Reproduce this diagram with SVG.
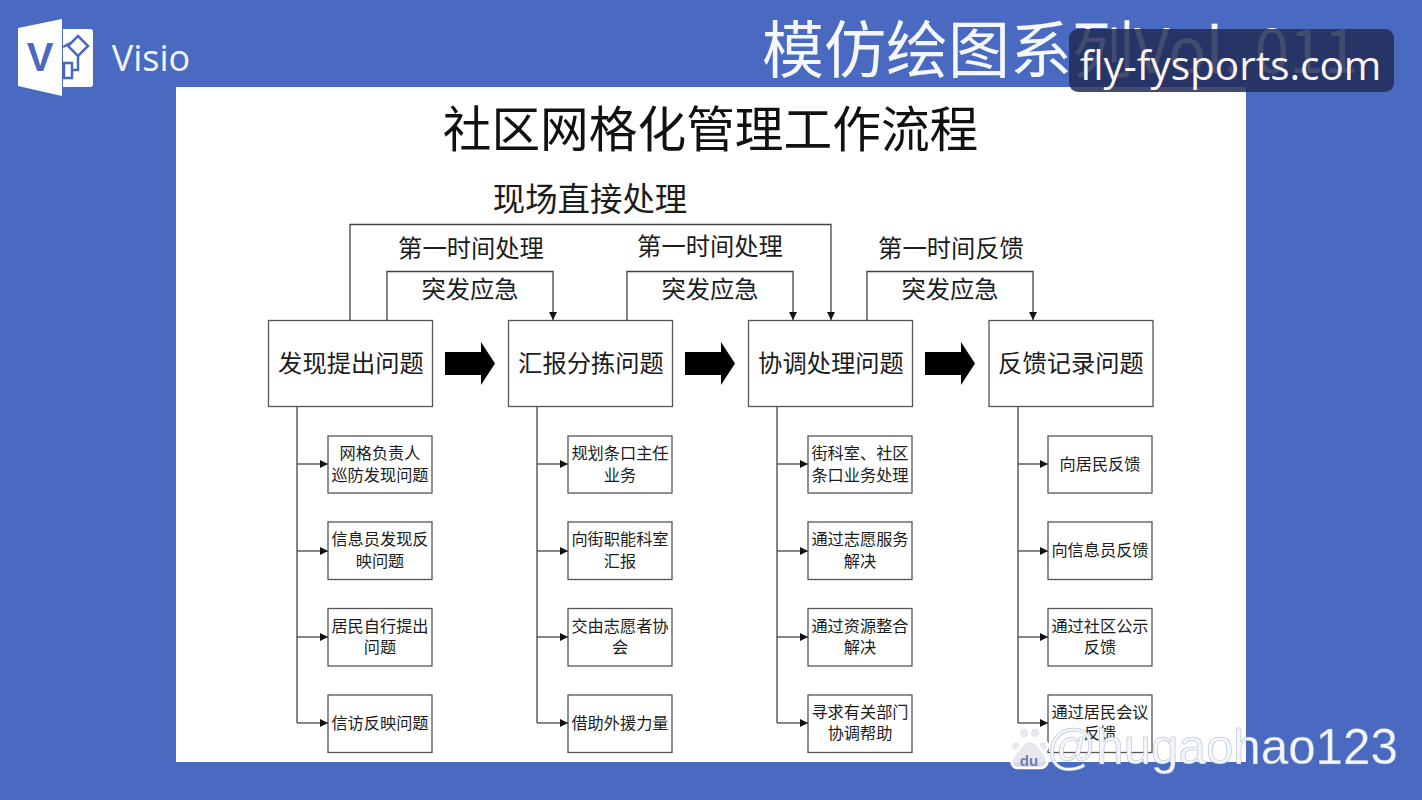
<svg xmlns="http://www.w3.org/2000/svg" width="1422" height="800" viewBox="0 0 1422 800">
<defs>
<marker id="ah" markerWidth="10" markerHeight="8" refX="8" refY="4" orient="auto" markerUnits="userSpaceOnUse"><path d="M0,0L8,4L0,8Z" fill="#111"/></marker>
<path id="blk" d="M0,10H36V0L50,21.500L36,43V33H0Z" fill="#000"/>
</defs>
<style>
text{font-family:"Noto Sans CJK SC","Liberation Sans",sans-serif;text-anchor:middle;fill:#1c1c1c}
.big rect,.sm rect{fill:#fff;stroke:#555;stroke-width:1.300}
.big text{font-size:24.300px}
.sm text{font-size:16.200px}
.lab{font-size:24.300px}
.con path{fill:none;stroke:#444;stroke-width:1.300}
</style>
<rect width="1422" height="800" fill="#4a69c1"/>
<rect x="176" y="87" width="1070" height="675" fill="#fff"/>
<g id="logo">
<path d="M18,28L62,19V96L18,86Z" fill="#fff"/>
<path d="M63,29H90Q93,29 93,32V84Q93,87 90,87H63Z" fill="#fff"/>
<text x="40" y="71" style="font-family:'Liberation Sans',sans-serif;font-size:40px;font-weight:700;fill:#4a69c1">V</text>
<path d="M78,36L88,46L78,56L68,46Z" fill="none" stroke="#4a69c1" stroke-width="2.500"/>
<path d="M63,47L70,43M78,56V70H72" fill="none" stroke="#4a69c1" stroke-width="2.500"/>
<rect x="64" y="63" width="8" height="15" fill="none" stroke="#4a69c1" stroke-width="2.500"/>
<text x="151" y="71" style="font-family:'Open Sans',sans-serif;font-size:36px;font-weight:400;fill:#f2f6fc">Visio</text>
</g>
<text x="1060" y="73" style="font-size:62px;fill:#f4f7fc">模仿绘图系列Vol. 011</text>
<text x="710.500" y="147" style="font-size:48.700px;fill:#111">社区网格化管理工作流程</text>
<text x="590" y="211" style="font-size:32.400px">现场直接处理</text>
<text class="lab" x="471" y="257">第一时间处理</text>
<text class="lab" x="710" y="255">第一时间处理</text>
<text class="lab" x="951" y="257">第一时间反馈</text>
<text class="lab" x="470" y="298">突发应急</text>
<text class="lab" x="710" y="298">突发应急</text>
<text class="lab" x="950" y="298">突发应急</text>
<g id="connectors" class="con">
<path d="M350,320V224.500H831V320" marker-end="url(#ah)"/>
<path d="M387,320V271.500H553V320" marker-end="url(#ah)"/>
<path d="M627,320V271.500H793V320" marker-end="url(#ah)"/>
<path d="M867,320V271.500H1033V320" marker-end="url(#ah)"/>
<path d="M297,406V723"/><path d="M537,406V723"/><path d="M777,406V723"/><path d="M1018,406V723"/>
<path d="M297,464H328" marker-end="url(#ah)"/><path d="M297,551H328" marker-end="url(#ah)"/><path d="M297,637H328" marker-end="url(#ah)"/><path d="M297,723H328" marker-end="url(#ah)"/>
<path d="M537,464H568" marker-end="url(#ah)"/><path d="M537,551H568" marker-end="url(#ah)"/><path d="M537,637H568" marker-end="url(#ah)"/><path d="M537,723H568" marker-end="url(#ah)"/>
<path d="M777,464H808" marker-end="url(#ah)"/><path d="M777,551H808" marker-end="url(#ah)"/><path d="M777,637H808" marker-end="url(#ah)"/><path d="M777,723H808" marker-end="url(#ah)"/>
<path d="M1018,464H1048" marker-end="url(#ah)"/><path d="M1018,551H1048" marker-end="url(#ah)"/><path d="M1018,637H1048" marker-end="url(#ah)"/><path d="M1018,723H1048" marker-end="url(#ah)"/>
<use href="#blk" x="445" y="342"/><use href="#blk" x="685" y="342"/><use href="#blk" x="925" y="342"/>
</g>
<g id="n1" class="big"><rect x="268.500" y="320.500" width="164" height="86"/><text x="351" y="372">发现提出问题</text></g>
<g id="n2" class="big"><rect x="508.500" y="320.500" width="164" height="86"/><text x="591" y="372">汇报分拣问题</text></g>
<g id="n3" class="big"><rect x="748.500" y="320.500" width="164" height="86"/><text x="831" y="372">协调处理问题</text></g>
<g id="n4" class="big"><rect x="989" y="320.500" width="164" height="86"/><text x="1071" y="372">反馈记录问题</text></g>
<g id="a1" class="sm"><rect x="328" y="436" width="104" height="57"/><text x="380" y="459">网格负责人</text><text x="380" y="481">巡防发现问题</text></g>
<g id="a2" class="sm"><rect x="328" y="522" width="104" height="57.500"/><text x="380" y="545">信息员发现反</text><text x="380" y="567">映问题</text></g>
<g id="a3" class="sm"><rect x="328" y="608.500" width="104" height="57.500"/><text x="380" y="632">居民自行提出</text><text x="380" y="653">问题</text></g>
<g id="a4" class="sm"><rect x="328" y="695" width="104" height="57.500"/><text x="380" y="729">信访反映问题</text></g>
<g id="b1" class="sm"><rect x="568" y="436" width="104" height="57"/><text x="620" y="459">规划条口主任</text><text x="620" y="481">业务</text></g>
<g id="b2" class="sm"><rect x="568" y="522" width="104" height="57.500"/><text x="620" y="545">向街职能科室</text><text x="620" y="567">汇报</text></g>
<g id="b3" class="sm"><rect x="568" y="608.500" width="104" height="57.500"/><text x="620" y="632">交由志愿者协</text><text x="620" y="653">会</text></g>
<g id="b4" class="sm"><rect x="568" y="695" width="104" height="57.500"/><text x="620" y="729">借助外援力量</text></g>
<g id="c1" class="sm"><rect x="808" y="436" width="104" height="57"/><text x="860" y="459">街科室、社区</text><text x="860" y="481">条口业务处理</text></g>
<g id="c2" class="sm"><rect x="808" y="522" width="104" height="57.500"/><text x="860" y="545">通过志愿服务</text><text x="860" y="567">解决</text></g>
<g id="c3" class="sm"><rect x="808" y="608.500" width="104" height="57.500"/><text x="860" y="632">通过资源整合</text><text x="860" y="653">解决</text></g>
<g id="c4" class="sm"><rect x="808" y="695" width="104" height="57.500"/><text x="860" y="718">寻求有关部门</text><text x="860" y="739">协调帮助</text></g>
<g id="d1" class="sm"><rect x="1048" y="436" width="104" height="57"/><text x="1100" y="470">向居民反馈</text></g>
<g id="d2" class="sm"><rect x="1048" y="522" width="104" height="57.500"/><text x="1100" y="556">向信息员反馈</text></g>
<g id="d3" class="sm"><rect x="1048" y="608.500" width="104" height="57.500"/><text x="1100" y="632">通过社区公示</text><text x="1100" y="653">反馈</text></g>
<g id="d4" class="sm"><rect x="1048" y="695" width="104" height="57.500"/><text x="1100" y="718">通过居民会议</text><text x="1100" y="739">反馈</text></g>
<rect x="1069" y="29" width="325" height="63" rx="9" fill="#1f2a55" fill-opacity="0.840"/>
<text x="1230.500" y="80" style="font-family:'Open Sans',sans-serif;font-size:40.500px;fill:#fdf4f2">fly-fysports.com</text>
<g id="wm" fill="#e4e6ec" fill-opacity="0.900" stroke="#fff" stroke-width="2.500">
<circle cx="1016" cy="746" r="5"/><circle cx="1024" cy="733" r="5.500"/><circle cx="1035" cy="733" r="5.500"/><circle cx="1043" cy="746" r="5"/>
<path d="M1030,741C1038,741 1040,750 1045,755C1050,761 1047,768 1040,768H1018C1012,768 1009,761 1014,755C1019,750 1022,741 1030,741Z"/>
</g>
<text x="1029" y="766" style="font-family:'Liberation Sans',sans-serif;font-size:15px;font-weight:700;fill:#6f7fa8">du</text>
<text x="1222" y="764" style="font-family:'Liberation Sans',sans-serif;font-size:49.300px;fill:#f2f6fc;stroke:#8d9ab8;stroke-width:0.500;stroke-opacity:0.700">@hugaohao123</text>
</svg>
